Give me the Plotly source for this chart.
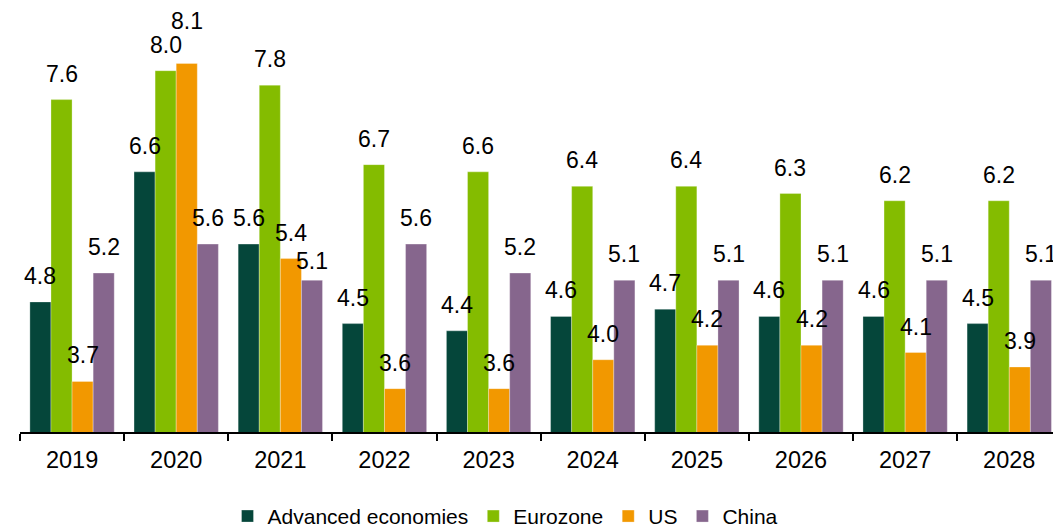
import plotly.graph_objects as go

# Unemployment rate (%), actual and forecast
years = ["2019", "2020", "2021", "2022", "2023", "2024", "2025", "2026", "2027", "2028"]
advanced = [4.8, 6.6, 5.6, 4.5, 4.4, 4.6, 4.7, 4.6, 4.6, 4.5]
eurozone = [7.6, 8.0, 7.8, 6.7, 6.6, 6.4, 6.4, 6.3, 6.2, 6.2]
us = [3.7, 8.1, 5.4, 3.6, 3.6, 4.0, 4.2, 4.2, 4.1, 3.9]
china = [5.2, 5.6, 5.1, 5.6, 5.2, 5.1, 5.1, 5.1, 5.1, 5.1]

series_names = ["Advanced economies", "Eurozone", "US", "China"]
series_values = [advanced, eurozone, us, china]
series_colors = ["#05463A", "#84BC00", "#F29800", "#86668D"]

# a few labels are nudged (pixels) so neighbours do not collide
label_nudge = {("US", 1): 16, ("China", 2): -7}

FONT = "Arial, Liberation Sans, sans-serif"
BARGAP = 0.19

fig = go.Figure()
for name, vals, col in zip(series_names, series_values, series_colors):
    fig.add_trace(go.Bar(
        x=years, y=vals, name=name,
        marker=dict(color=col, line=dict(color="rgba(255,255,255,0.5)", width=0.6)),
    ))

# value labels above each bar, centred on the bar within its group
n = len(series_values)
bar_w = (1 - BARGAP) / n
annotations = []
for j, (name, vals) in enumerate(zip(series_names, series_values)):
    off = (j - (n - 1) / 2) * bar_w
    for i, v in enumerate(vals):
        annotations.append(dict(
            x=i + off, y=v, xref="x", yref="y",
            text=f"{v:.1f}", showarrow=False,
            yanchor="bottom", yshift=11 + label_nudge.get((name, i), 0),
            font=dict(family=FONT, size=23, color="#000000"),
        ))

fig.update_layout(
    width=1053, height=529,
    margin=dict(l=20, r=0, t=10, b=97, autoexpand=False),
    paper_bgcolor="white", plot_bgcolor="white",
    barmode="group", bargap=BARGAP, bargroupgap=0,
    font=dict(family=FONT, size=22, color="#000000"),
    showlegend=True,
    legend=dict(
        orientation="h", x=0.47, xanchor="center", y=-0.2, yanchor="middle",
        font=dict(family=FONT, size=21, color="#000000"),
        itemwidth=30, traceorder="normal",
    ),
    annotations=annotations,
)
fig.update_xaxes(
    type="category", range=[-0.5, 9.42],
    showline=True, linecolor="#000000", linewidth=2,
    ticks="outside", tickson="boundaries", ticklen=7, tickwidth=2, tickcolor="#000000",
    showgrid=False, zeroline=False, ticklabelstandoff=6,
    tickfont=dict(family=FONT, size=23.5, color="#000000"),
)
fig.update_yaxes(visible=False, range=[3, 8.84], showgrid=False, zeroline=False)

fig.write_html("out.html")
